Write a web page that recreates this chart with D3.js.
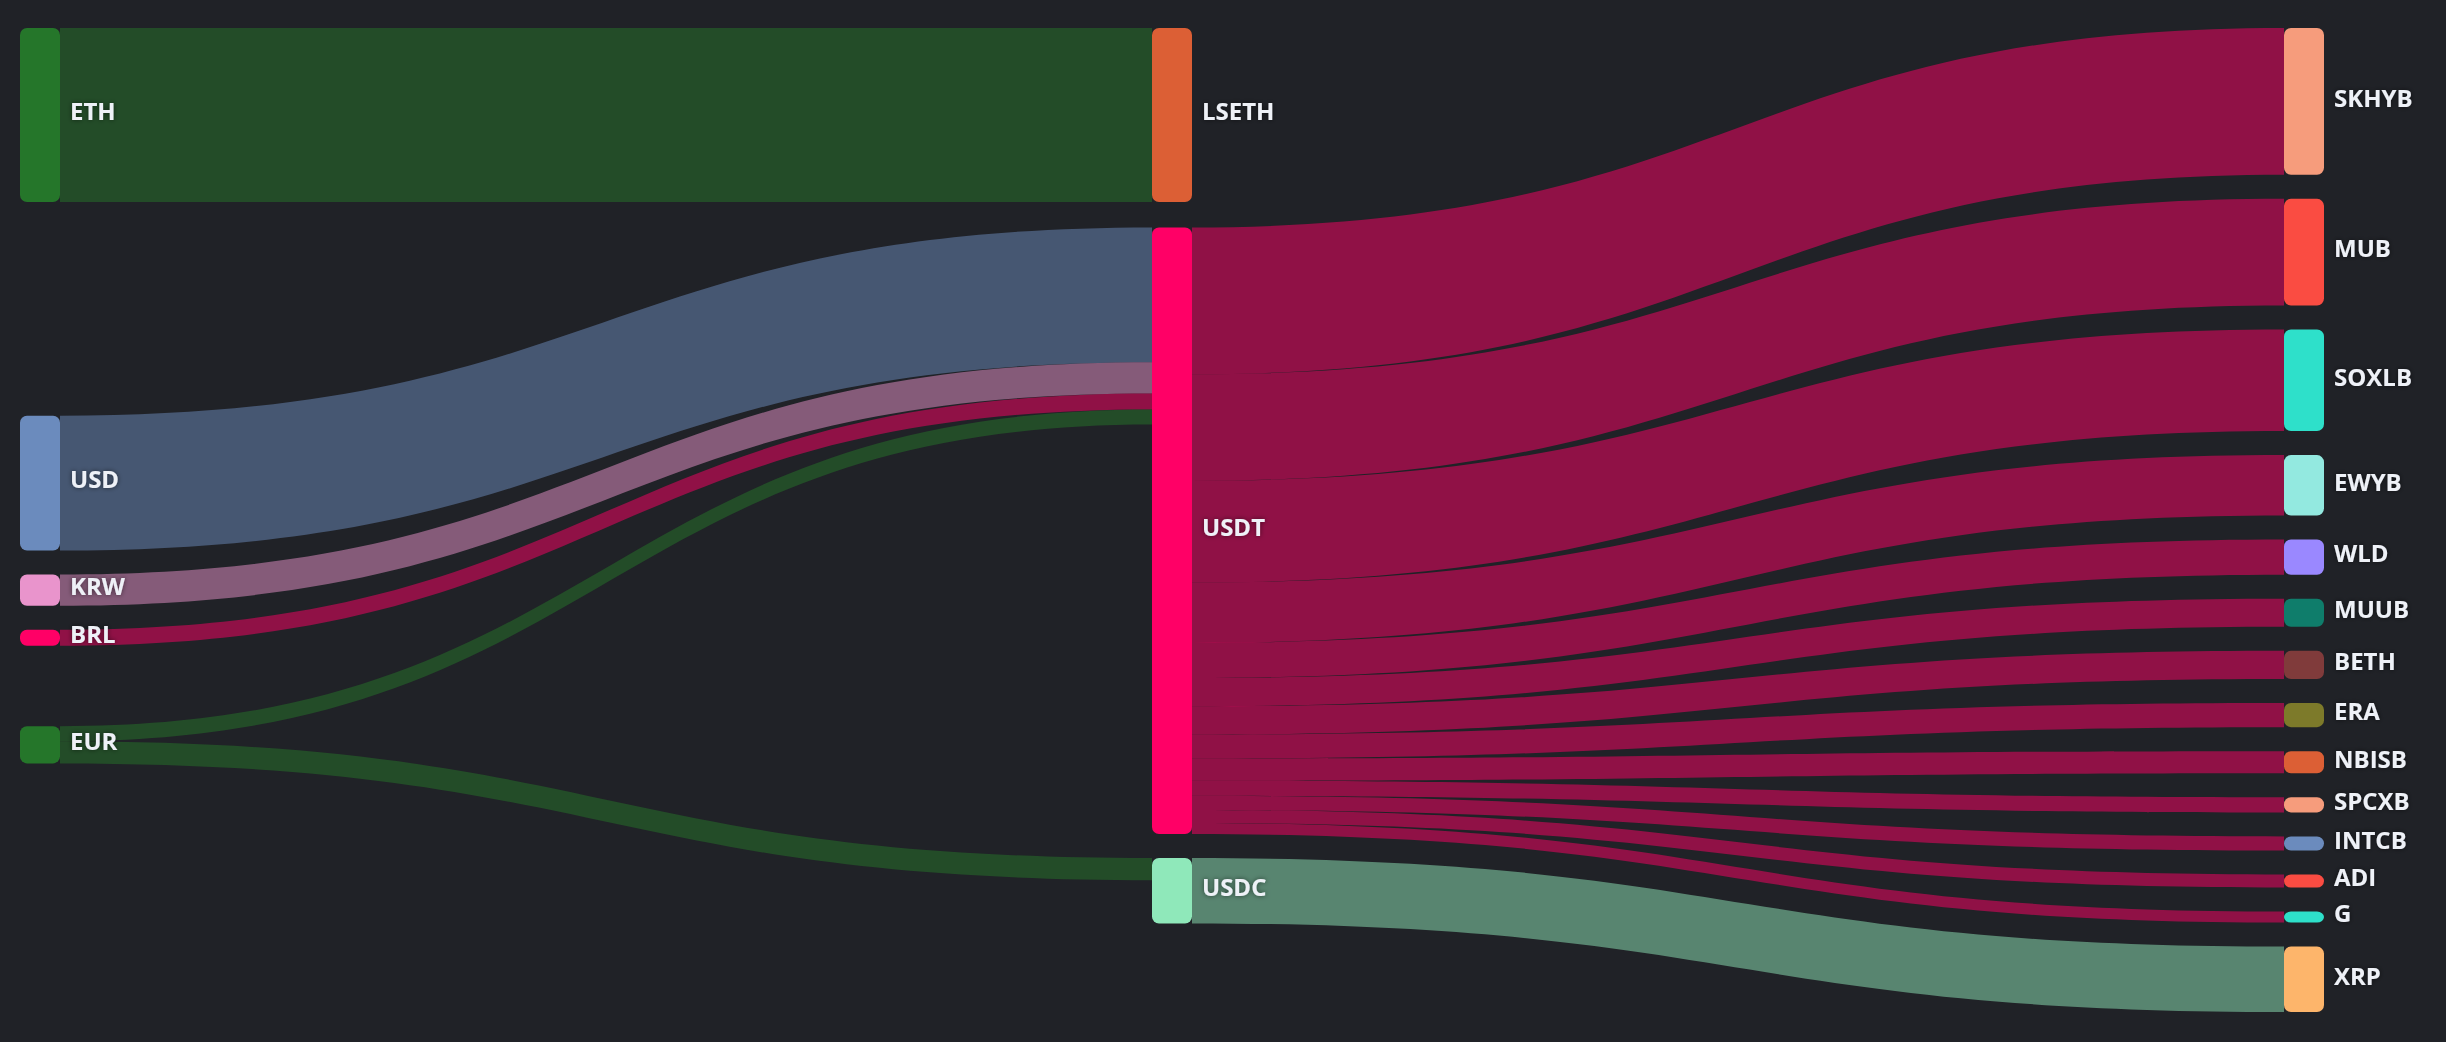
<!DOCTYPE html>
<html>
<head>
<meta charset="utf-8">
<script src="https://cdn.jsdelivr.net/npm/d3@7"></script>
<style>
  html, body { margin: 0; padding: 0; background: #202227; }
  svg { display: block; }
</style>
</head>
<body>
<div id="chart-area"></div>
<script>
const SVG_WIDTH = 2446;
const SVG_HEIGHT = 1042;
const margin = { left: 20, right: 122, top: 28, bottom: 30 };
const NODE_WIDTH = 40;
const NODE_GAP = 24;
const ITERATIONS = 32;

// nodes, in data order
const nodeNames = ["ETH", "USD", "KRW", "BRL", "EUR",
    "LSETH", "USDT", "USDC",
    "SKHYB", "MUB", "SOXLB", "EWYB", "WLD", "MUUB", "BETH", "ERA",
    "NBISB", "SPCXB", "INTCB", "ADI", "G", "XRP"];
const nodeColors = ["#25762a", "#6b8bbd", "#e994cc", "#ff0066", "#25762a",
    "#dc5f35", "#ff0066", "#8fe8ba",
    "#f69c7c", "#fa4c42", "#2ee0ca", "#93e9e0", "#9a88ff", "#0f7d6b", "#803b3b", "#7d7a2a",
    "#dc5f35", "#f69c7c", "#6b8bbd", "#fa4c42", "#2ee0ca", "#fdb56b"];

// flows
const linkSources = ["ETH", "USD", "KRW", "BRL", "EUR", "EUR",
    "USDT", "USDT", "USDT", "USDT", "USDT", "USDT", "USDT",
    "USDT", "USDT", "USDT", "USDT", "USDT", "USDT", "USDC"];
const linkTargets = ["LSETH", "USDT", "USDT", "USDT", "USDT", "USDC",
    "SKHYB", "MUB", "SOXLB", "EWYB", "WLD", "MUUB", "BETH",
    "ERA", "NBISB", "SPCXB", "INTCB", "ADI", "G", "XRP"];
const linkValues = [173, 134, 31, 16, 15, 22,
    146, 106, 101, 60, 35, 28, 28,
    24, 22, 15, 14, 13, 11, 65];

const innerW = SVG_WIDTH - margin.left - margin.right;
const innerH = SVG_HEIGHT - margin.top - margin.bottom;

const svg = d3.select("#chart-area").append("svg")
    .attr("width", SVG_WIDTH)
    .attr("height", SVG_HEIGHT);

const defs = svg.append("defs");
defs.append("filter").attr("id", "label-shadow")
    .attr("x", "-20%").attr("y", "-40%").attr("width", "140%").attr("height", "180%")
    .append("feDropShadow")
    .attr("dx", 0).attr("dy", 0).attr("stdDeviation", 2.5)
    .attr("flood-color", "#000").attr("flood-opacity", 0.55);

// ---- graph ----
const nodes = nodeNames.map((name, i) => ({ name: name, color: nodeColors[i], inEdges: [], outEdges: [], depth: 0 }));
const byName = new Map(nodes.map(n => [n.name, n]));
const links = linkValues.map((v, i) => {
    const l = { source: byName.get(linkSources[i]), target: byName.get(linkTargets[i]), value: v };
    l.source.outEdges.push(l);
    l.target.inEdges.push(l);
    return l;
});
nodes.forEach(n => {
    n.value = Math.max(d3.sum(n.inEdges, e => e.value), d3.sum(n.outEdges, e => e.value));
});

// depth (left aligned)
let changed = true;
while (changed) {
    changed = false;
    links.forEach(l => {
        if (l.target.depth < l.source.depth + 1) { l.target.depth = l.source.depth + 1; changed = true; }
    });
}
const maxDepth = d3.max(nodes, n => n.depth);
const x = d3.scaleLinear().domain([0, maxDepth]).range([margin.left, margin.left + innerW - NODE_WIDTH]);

const columns = d3.range(maxDepth + 1).map(d => nodes.filter(n => n.depth === d));

// value -> pixel
const ky = d3.min(columns, col => (innerH - (col.length - 1) * NODE_GAP) / d3.sum(col, n => n.value));
const size = d3.scaleLinear().domain([0, 1]).range([0, ky]);

columns.forEach(col => col.forEach((n, i) => { n.y = i; n.dy = size(n.value); }));
links.forEach(l => { l.dy = size(l.value); });

const center = n => n.y + n.dy / 2;
const targetCenter = n => d3.sum(n.outEdges, e => center(e.target) * e.value) / d3.sum(n.outEdges, e => e.value);
const sourceCenter = n => d3.sum(n.inEdges, e => center(e.source) * e.value) / d3.sum(n.inEdges, e => e.value);

function resolveCollisions() {
    columns.forEach(col => {
        col.sort((a, b) => a.y - b.y);
        let y0 = 0, node;
        for (let i = 0; i < col.length; i++) {
            node = col[i];
            const dy = y0 - node.y;
            if (dy > 0) node.y += dy;
            y0 = node.y + node.dy + NODE_GAP;
        }
        let over = y0 - NODE_GAP - innerH;
        if (over > 0) {
            node.y -= over;
            y0 = node.y;
            for (let i = col.length - 2; i >= 0; i--) {
                node = col[i];
                const dy = node.y + node.dy + NODE_GAP - y0;
                if (dy > 0) node.y -= dy;
                y0 = node.y;
            }
        }
    });
}

function relaxRightToLeft(alpha) {
    columns.slice().reverse().forEach(col => col.forEach(n => {
        if (n.outEdges.length) n.y += (targetCenter(n) - center(n)) * alpha;
    }));
}

function relaxLeftToRight(alpha) {
    columns.forEach(col => col.forEach(n => {
        if (n.inEdges.length) n.y += (sourceCenter(n) - center(n)) * alpha;
    }));
}

// align the source column on its targets, centring groups that would overlap
function settleSources(col) {
    col.forEach(n => { n.want = targetCenter(n); });
    const order = col.slice().sort((a, b) => (Math.abs(a.want - b.want) > 1e-6 ? a.want - b.want : a.y - b.y));
    const blocks = [];
    order.forEach(n => {
        blocks.push({ nodes: [n], h: n.dy, sumWant: n.want, count: 1, top: n.want - n.dy / 2 });
        while (blocks.length > 1) {
            const b2 = blocks[blocks.length - 1], b1 = blocks[blocks.length - 2];
            if (b1.top + b1.h + NODE_GAP <= b2.top) break;
            const m = { nodes: b1.nodes.concat(b2.nodes), h: b1.h + NODE_GAP + b2.h,
                sumWant: b1.sumWant + b2.sumWant, count: b1.count + b2.count };
            m.top = Math.max(0, m.sumWant / m.count - m.h / 2);
            blocks.splice(-2, 2, m);
        }
    });
    blocks.forEach(b => {
        let yy = Math.max(0, b.top);
        b.nodes.forEach(n => { n.y = yy; yy += n.dy + NODE_GAP; });
    });
}

resolveCollisions();
let alpha = 1;
for (let it = ITERATIONS; it > 0; it--) {
    alpha *= 0.99;
    relaxRightToLeft(alpha);
    resolveCollisions();
    relaxLeftToRight(alpha);
    resolveCollisions();
}
settleSources(columns[0]);
relaxLeftToRight(alpha);
resolveCollisions();
settleSources(columns[0]);

// edge offsets at each node
nodes.forEach(n => {
    n.outEdges.sort((a, b) => a.target.y - b.target.y);
    n.inEdges.sort((a, b) => a.source.y - b.source.y);
    let sy = 0, ty = 0;
    n.outEdges.forEach(e => { e.sy = sy; sy += e.dy; });
    n.inEdges.forEach(e => { e.ty = ty; ty += e.dy; });
});

const y = d3.scaleLinear().domain([0, innerH]).range([margin.top, margin.top + innerH]);

function linkPath(l) {
    const x1 = x(l.source.depth) + NODE_WIDTH, x2 = x(l.target.depth);
    const y1 = y(l.source.y + l.sy), y2 = y(l.target.y + l.ty);
    const c1 = x1 + (x2 - x1) * 0.5, c2 = x2 - (x2 - x1) * 0.5;
    const p = d3.path();
    p.moveTo(x1, y1);
    p.bezierCurveTo(c1, y1, c2, y2, x2, y2);
    p.lineTo(x2, y2 + l.dy);
    p.bezierCurveTo(c2, y2 + l.dy, c1, y1 + l.dy, x1, y1 + l.dy);
    p.closePath();
    return p.toString();
}

const group = svg.append("g");

group.append("g").attr("class", "links")
    .selectAll("path").data(links).enter().append("path")
    .attr("d", linkPath)
    .attr("fill", d => d.source.color)
    .attr("fill-opacity", 0.5);

group.append("g").attr("class", "nodes")
    .selectAll("rect").data(nodes).enter().append("rect")
    .attr("x", d => x(d.depth))
    .attr("y", d => y(d.y))
    .attr("width", NODE_WIDTH)
    .attr("height", d => d.dy)
    .attr("rx", 7).attr("ry", 7)
    .attr("fill", d => d.color);

group.append("g").attr("class", "labels")
    .selectAll("text").data(nodes).enter().append("text")
    .attr("x", d => x(d.depth) + NODE_WIDTH + 10)
    .attr("y", d => y(d.y + d.dy / 2))
    .attr("dy", "0.22em")
    .attr("font-family", "'Open Sans', 'Noto Sans', sans-serif")
    .attr("font-weight", 700)
    .attr("font-size", "24px")
    .attr("fill", "#eef1f7")
    .attr("filter", "url(#label-shadow)")
    .text(d => d.name);
</script>
</body>
</html>
